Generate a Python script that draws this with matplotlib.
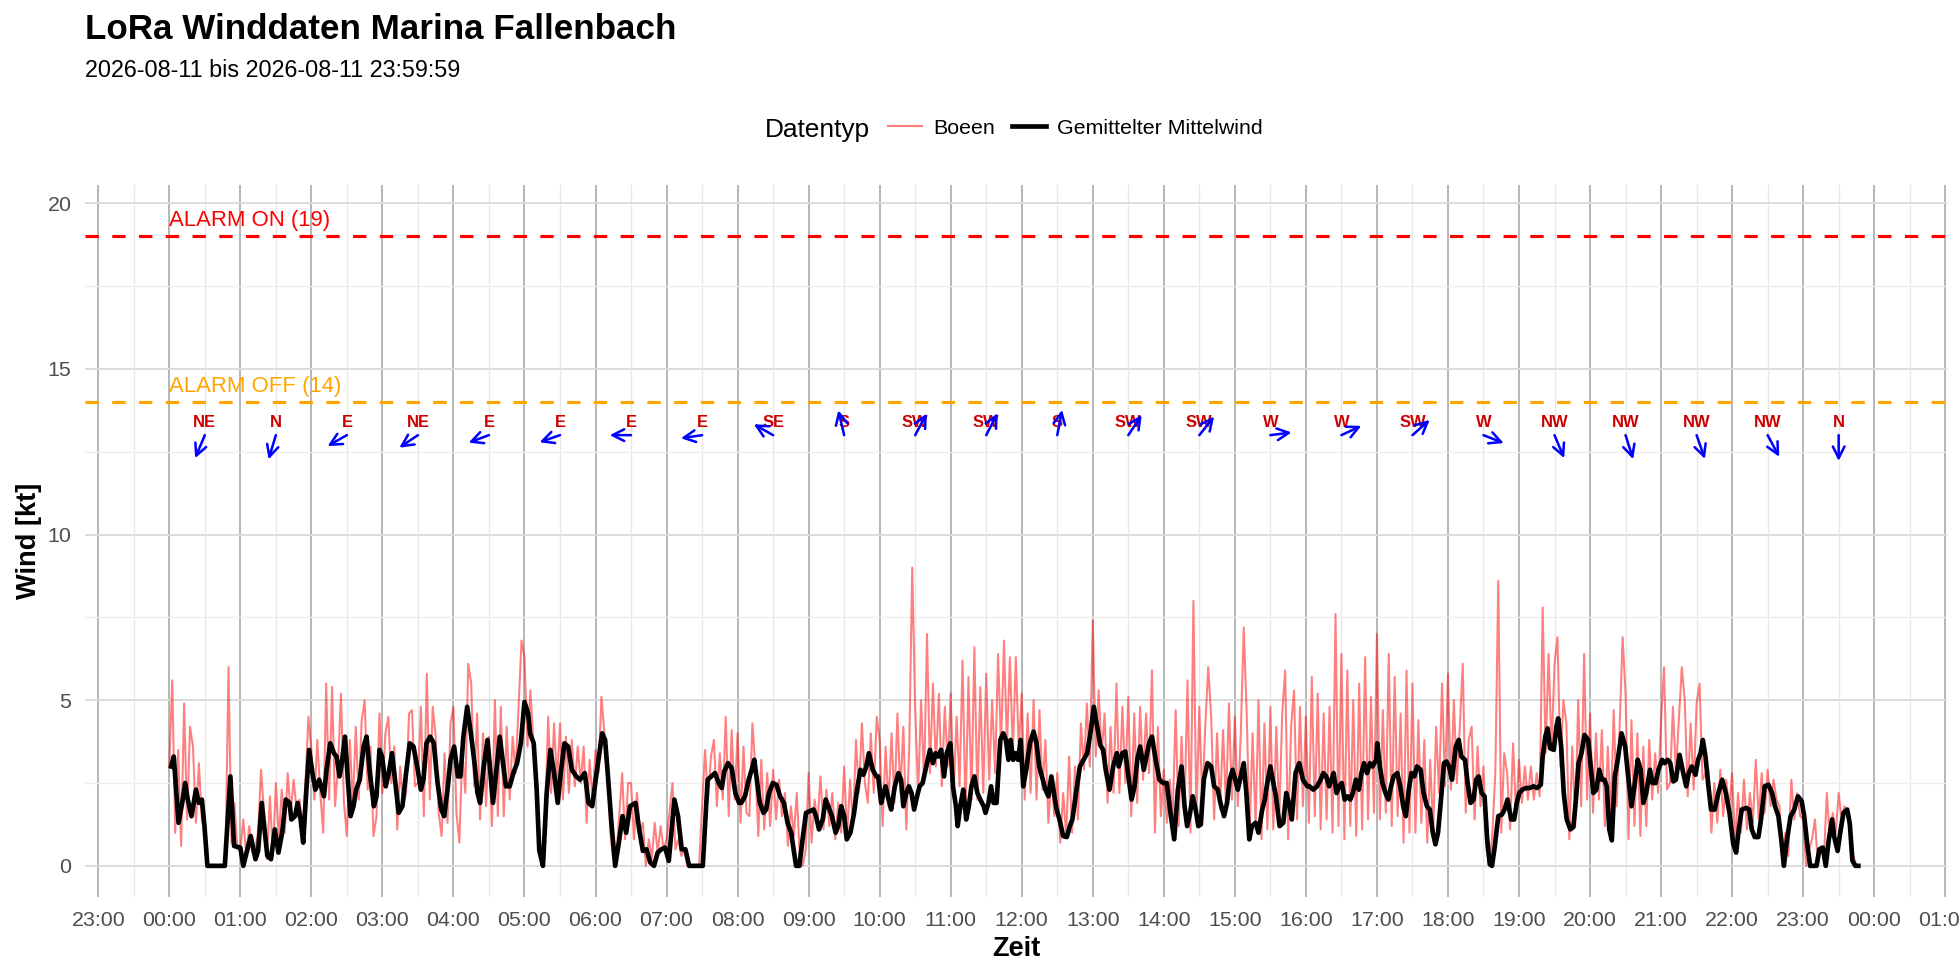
import numpy as np
import matplotlib.pyplot as plt
from matplotlib.lines import Line2D

plt.rcParams['font.family'] = ['Liberation Sans', 'DejaVu Sans']

# Boeen, alle 2.5 Minuten ab 00:00 (kt)
gust_kt = [
    3.0, 5.6, 1.0, 3.5, 0.6, 4.9, 1.4, 4.2, 3.6, 1.3, 3.1, 1.4, 1.0, 0.0, 0.0, 0.0, 0.0, 0.0, 0.0, 0.2, 6.0, 0.7, 1.9, 0.5,
    0.5, 1.4, 0.3, 1.2, 0.4, 0.5, 1.0, 2.9, 1.6, 0.2, 2.1, 0.3, 2.5, 0.8, 2.3, 1.0, 2.8, 1.6, 2.6, 1.7, 2.0, 1.1, 2.5, 4.5,
    3.5, 2.0, 3.8, 2.2, 1.0, 5.5, 2.0, 5.4, 1.8, 3.0, 5.2, 1.9, 0.9, 3.8, 1.8, 4.2, 2.0, 4.4, 5.0, 2.3, 3.6, 0.9, 1.5, 4.6,
    2.2, 4.0, 4.5, 2.5, 3.6, 1.1, 3.0, 1.8, 2.2, 4.6, 4.7, 2.4, 2.5, 4.8, 1.5, 5.8, 2.0, 4.8, 3.9, 1.6, 0.9, 3.4, 1.3, 4.3,
    4.8, 1.6, 0.7, 3.5, 2.2, 6.1, 5.5, 2.4, 4.6, 1.4, 4.0, 1.8, 3.9, 1.2, 5.0, 1.5, 4.8, 1.5, 4.2, 2.0, 3.9, 2.8, 4.8, 6.8,
    6.3, 3.6, 5.3, 3.7, 2.5, 0.3, 0.2, 1.5, 4.5, 2.2, 4.3, 2.5, 4.3, 2.0, 3.9, 2.2, 3.8, 2.4, 3.6, 2.5, 3.6, 1.3, 3.2, 2.0,
    3.5, 2.8, 5.1, 4.0, 3.3, 1.0, 0.2, 0.3, 1.5, 2.8, 0.8, 2.5, 2.5, 0.8, 2.2, 1.0, 1.3, 0.0, 0.8, 0.2, 1.3, 0.4, 1.2, 0.5,
    0.8, 1.6, 2.5, 0.5, 0.8, 0.3, 0.5, 0.0, 0.0, 0.0, 0.0, 0.0, 1.8, 3.5, 2.0, 3.3, 3.8, 1.8, 3.4, 2.0, 4.5, 1.5, 4.1, 2.0,
    4.0, 1.3, 3.6, 1.6, 1.5, 4.3, 3.0, 0.9, 3.2, 1.1, 2.8, 1.2, 2.9, 1.4, 2.6, 1.5, 2.2, 0.6, 1.8, 0.9, 2.2, 0.3, 0.0, 0.5,
    2.8, 0.7, 2.0, 1.3, 2.7, 1.1, 2.3, 1.2, 2.2, 0.8, 1.9, 1.0, 3.0, 0.9, 2.6, 1.2, 3.8, 2.2, 4.3, 2.5, 1.9, 4.0, 2.2, 4.5,
    3.8, 1.2, 3.6, 1.8, 4.0, 1.9, 4.6, 2.2, 4.2, 1.1, 3.6, 9.0, 4.7, 2.2, 5.0, 2.5, 7.0, 2.8, 5.5, 3.0, 5.2, 2.4, 4.8, 3.0,
    5.2, 2.2, 4.5, 2.4, 6.2, 1.5, 5.7, 2.0, 6.6, 2.0, 5.4, 2.2, 5.8, 2.6, 5.0, 2.8, 6.4, 3.6, 6.8, 3.6, 6.3, 3.4, 6.3, 3.5,
    5.2, 2.0, 4.6, 2.2, 5.0, 2.0, 4.7, 2.3, 3.8, 1.3, 2.7, 1.5, 2.8, 0.7, 2.2, 0.9, 3.3, 1.0, 3.0, 1.4, 4.3, 2.9, 4.9, 3.0,
    7.4, 3.3, 5.3, 3.4, 4.6, 1.9, 4.2, 2.2, 5.5, 2.2, 4.8, 2.5, 5.1, 1.5, 4.6, 1.9, 4.8, 2.6, 4.6, 2.8, 5.9, 1.0, 4.2, 1.5,
    2.9, 1.3, 2.6, 1.5, 4.7, 1.2, 3.9, 1.6, 5.6, 1.0, 8.0, 1.5, 4.8, 1.9, 4.2, 6.0, 4.5, 1.4, 4.0, 1.7, 4.1, 1.8, 4.9, 2.0,
    4.5, 1.8, 4.0, 7.2, 4.6, 1.0, 4.0, 1.2, 5.0, 0.8, 4.3, 1.1, 4.8, 1.1, 4.2, 1.4, 4.6, 5.9, 0.8, 4.2, 5.3, 1.4, 4.8, 1.8,
    4.5, 1.3, 5.7, 1.5, 5.2, 1.1, 4.6, 1.4, 4.8, 1.0, 7.6, 1.2, 6.4, 0.8, 5.9, 1.2, 5.0, 0.9, 5.5, 1.1, 6.3, 1.4, 5.1, 1.6,
    7.0, 1.4, 4.7, 1.6, 6.4, 1.2, 5.7, 1.5, 4.6, 0.7, 5.9, 1.0, 5.5, 1.0, 4.4, 1.3, 3.8, 0.7, 3.2, 1.0, 4.2, 2.2, 5.5, 2.4,
    5.8, 2.3, 5.0, 2.5, 4.2, 6.1, 1.6, 3.8, 4.2, 1.4, 3.6, 1.8, 3.0, 0.5, 0.0, 1.0, 2.8, 8.6, 1.0, 3.4, 2.8, 1.1, 3.7, 1.5,
    3.2, 1.9, 3.0, 2.0, 3.0, 2.0, 2.8, 2.1, 7.8, 3.4, 6.4, 3.5, 6.1, 6.9, 3.0, 5.0, 4.3, 0.8, 3.6, 1.2, 5.0, 1.8, 6.4, 2.0,
    4.6, 1.6, 4.0, 2.0, 4.1, 1.2, 3.6, 1.5, 4.7, 1.8, 4.2, 6.9, 5.2, 0.8, 4.4, 1.2, 4.0, 0.9, 3.6, 1.2, 3.8, 2.0, 3.4, 2.2,
    4.4, 6.0, 2.3, 2.5, 4.8, 2.8, 4.4, 6.0, 5.0, 2.1, 4.3, 2.3, 4.9, 5.5, 2.6, 2.8, 2.9, 1.0, 2.5, 1.3, 2.9, 1.5, 2.6, 1.7,
    2.8, 0.7, 2.2, 1.0, 2.6, 1.1, 2.2, 1.3, 3.2, 1.4, 2.8, 1.6, 2.9, 1.8, 2.6, 2.0, 1.8, 0.0, 1.0, 0.3, 2.6, 1.4, 2.2, 1.5,
    1.4, 0.0, 0.5, 0.8, 1.4, 0.0, 0.6, 0.2, 2.2, 0.8, 1.6, 1.0, 2.2, 1.4, 1.8, 1.5, 1.0, 0.3, 0.0,
]
gust_step_min = 2.5

# gemittelter Mittelwind: (Minute ab 00:00, kt)
mean_pts = [
    (1.6, 3.0), (3.75, 3.3), (7.8, 1.3), (10.9, 1.9), (13.4, 2.5), (15.6, 2.0), (18.75, 1.5), (22.5, 2.3), (25, 1.9), (27.5, 2.0),
    (29.7, 1.2), (32.2, 0.0), (46.9, 0.0), (51.6, 2.7), (54.7, 0.6), (60, 0.55), (62.5, 0.0), (65.6, 0.45), (68.75, 0.9), (72.8, 0.2),
    (75, 0.45), (78.1, 1.9), (82.8, 0.3), (85.9, 0.2), (89.1, 1.1), (92.2, 0.4), (95.3, 1.0), (98.4, 2.0), (101.6, 1.9), (103.1, 1.4),
    (106.25, 1.5), (108.4, 1.9), (110.9, 1.4), (113.1, 0.7), (115.6, 2.2), (118.1, 3.5), (120.9, 2.8), (123.4, 2.3), (126.6, 2.6), (130.6, 2.1),
    (132.8, 2.9), (135.9, 3.7), (139.1, 3.4), (141.25, 3.3), (143.75, 2.7), (145.3, 3.0), (148.4, 3.9), (150.6, 2.7), (153.1, 1.5), (155.6, 1.8),
    (157.8, 2.3), (160.9, 2.6), (164.1, 3.6), (166.6, 3.9), (169.4, 2.8), (172.8, 1.8), (175, 2.1), (177.5, 3.5), (179.7, 3.3), (182.8, 2.4),
    (185.3, 2.8), (188.1, 3.4), (190.6, 2.6), (193.75, 1.6), (196.9, 1.8), (200, 2.8), (203.1, 3.7), (206.25, 3.6), (209.4, 3.0), (212.5, 2.3),
    (214.7, 2.6), (217.2, 3.7), (220.3, 3.9), (223.4, 3.7), (226.6, 2.5), (229.7, 1.7), (232.2, 1.5), (235.3, 2.4), (237.5, 3.2), (240.6, 3.6),
    (243.75, 2.7), (245.9, 2.7), (248.4, 3.9), (251.6, 4.8), (254.7, 4.0), (257.8, 3.1), (260.3, 2.2), (262.5, 1.9), (265.6, 3.0), (268.75, 3.8),
    (271.25, 2.8), (273.4, 1.9), (276.6, 3.0), (279.1, 3.9), (282.2, 3.0), (284.4, 2.4), (287.5, 2.4), (290.6, 2.8), (293.75, 3.1), (296.9, 3.7),
    (300, 4.95), (303.1, 4.6), (304.7, 4.0), (307.8, 3.7), (310.3, 2.3), (312.5, 0.46), (315.6, 0.0), (318.75, 2.2), (321.9, 3.5), (325, 2.8),
    (328.1, 1.9), (330.6, 2.8), (333.75, 3.7), (336.9, 3.6), (340, 2.9), (343.75, 2.7), (346.9, 2.6), (350.9, 2.8), (354.1, 1.9), (357.2, 1.8),
    (360.9, 2.8), (365.6, 4.0), (368.1, 3.8), (370.3, 2.8), (373.4, 1.3), (376.6, 0.0), (379.7, 0.7), (382.8, 1.5), (385.9, 1.0), (389.1, 1.8),
    (393.75, 1.9), (396.9, 1.1), (400, 0.45), (403.1, 0.5), (406.25, 0.1), (409.4, 0.0), (412.5, 0.4), (415.6, 0.5), (418.75, 0.55), (421.9, 0.15),
    (426.6, 2.0), (429.7, 1.5), (432.8, 0.5), (435.9, 0.5), (439.1, 0.0), (450.6, 0.0), (454.7, 2.6), (457.8, 2.7), (460.9, 2.8), (464.1, 2.5),
    (466.6, 2.35), (468.75, 2.85), (471.9, 3.1), (475, 2.95), (478.1, 2.2), (481.25, 1.9),
    (483.1, 1.9), (486.25, 2.1), (489.4, 2.6), (491.9, 2.9), (494.1, 3.2), (496.25, 2.6), (498.75, 1.9), (501.9, 1.6), (504.1, 1.7), (506.6, 2.2),
    (509.7, 2.5), (512.8, 2.45), (515.9, 2.1), (519.1, 1.9), (522.2, 1.3), (525.3, 1.0), (527.5, 0.45), (529.4, 0.0), (532.2, 0.0), (534.7, 0.75),
    (537.8, 1.6), (540.9, 1.65), (544.1, 1.7), (546.25, 1.5), (548.75, 1.1), (551.9, 1.4), (554.4, 2.0), (556.6, 1.8), (559.7, 1.5), (562.8, 1.0),
    (565, 1.2), (567.5, 1.8), (570, 1.5), (572.2, 0.8), (575.3, 1.0), (578.4, 1.6), (580.9, 2.3), (583.75, 2.9), (586.25, 2.75), (588.75, 3.0),
    (590.9, 3.4), (594.1, 2.9), (597.2, 2.7), (598.75, 2.7), (601.25, 1.9), (603.4, 2.2), (605, 2.4), (607.5, 2.0), (609.7, 1.7), (612.8, 2.4),
    (615.9, 2.8), (618.1, 2.6), (620, 1.8), (622.5, 2.2), (624.7, 2.4), (626.9, 2.2), (629.1, 1.7), (631.6, 2.1), (633.75, 2.4), (636.25, 2.5),
    (639.4, 3.0), (642.5, 3.5), (645, 3.1), (647.2, 3.4), (649.4, 3.3), (651.9, 3.5), (654.4, 2.7), (656.6, 3.4), (659.7, 3.7), (661.9, 2.4),
    (664.4, 1.8), (665.9, 1.2), (668.1, 1.8), (670.6, 2.3), (673.1, 1.4), (675.3, 1.8), (677.5, 2.4), (680, 2.7), (682.5, 2.2), (685, 2.0),
    (687.8, 1.8), (689.4, 1.6), (691.9, 1.9), (694.1, 2.4), (696.25, 1.9), (698.75, 1.9), (701.9, 3.8), (704.4, 4.0), (706.6, 3.8), (708.75, 3.2),
    (710.6, 3.8), (712.8, 3.2), (715, 3.4), (716.9, 3.2), (719.1, 3.8), (721.25, 2.4), (723.75, 2.9), (726.9, 3.7), (730, 4.05), (732.5, 3.7),
    (734.7, 3.0), (737.8, 2.6), (740, 2.3), (742.5, 2.1), (745, 2.7), (747.2, 2.2), (749.4, 1.7), (751.9, 1.4), (755, 0.9), (758.1, 0.87),
    (760.6, 1.2), (762.8, 1.4), (765.9, 2.2), (769.1, 3.0), (772.2, 3.2), (775.3, 3.4), (778.4, 4.1), (780.9, 4.8), (783.75, 4.2), (786.25, 3.65),
    (788.75, 3.5), (790.9, 2.9), (794.1, 2.3), (797.2, 3.0), (800.3, 3.4), (801.9, 3.0), (805, 3.4), (807.5, 3.45), (809.7, 2.8), (812.8, 2.0),
    (815.3, 2.4), (817.5, 3.2), (820, 3.6), (823.1, 2.9), (825.3, 3.3), (827.5, 3.7), (830, 3.9), (833.1, 3.2), (836.25, 2.6), (839.4, 2.5),
    (842.5, 2.5), (845.6, 1.6), (848.75, 0.8), (851.9, 2.3), (855, 3.0), (857.5, 1.8), (859.7, 1.2), (862.2, 1.6), (864.4, 2.1), (866.9, 1.7),
    (869.1, 1.2), (871.25, 1.25), (873.75, 2.6), (876.9, 3.1), (880, 3.0), (882.5, 2.4), (885.6, 2.3), (887.8, 1.9), (890.9, 1.5), (893.4, 1.9),
    (895.6, 2.6), (898.1, 2.9), (900.3, 2.6), (902.5, 2.3), (905, 2.7), (907.5, 3.1), (909.7, 2.2), (912.2, 0.8), (914.4, 1.2), (917.5, 1.3),
    (920, 1.0), (923.1, 1.7), (925.3, 2.0), (926.9, 2.4), (930, 3.0), (932.5, 2.5), (934.7, 2.1), (937.8, 1.2), (940.9, 1.3), (943.4, 2.2),
    (945.6, 1.9), (948.1, 1.4), (951.25, 2.8), (954.4, 3.1), (957.5, 2.6), (961.25, 2.4),
    (963.1, 2.4), (966.25, 2.3), (969.4, 2.4), (972.5, 2.6), (974.7, 2.8), (977.2, 2.7), (979.7, 2.4), (983.4, 2.8), (985.9, 2.2), (988.1, 2.4),
    (990.3, 2.5), (992.8, 2.0), (995.3, 2.1), (997.5, 2.0), (999.7, 2.2), (1002.2, 2.6), (1004.7, 2.3), (1006.9, 2.8), (1009.1, 3.1), (1011.6, 2.8),
    (1014.1, 3.1), (1016.25, 3.0), (1019.4, 3.2), (1020.3, 3.7), (1022.5, 3.0), (1024.7, 2.5), (1027.2, 2.2), (1029.7, 2.0), (1031.9, 2.4), (1034.1, 2.7),
    (1037.2, 2.8), (1039.7, 2.4), (1042.2, 1.8), (1044.4, 1.5), (1046.9, 2.3), (1049.1, 2.8), (1051.6, 2.7), (1053.75, 3.0), (1056.9, 2.9), (1059.4, 2.2),
    (1062.2, 1.8), (1064.7, 1.7), (1067.2, 1.0), (1069.4, 0.65), (1071.6, 1.0), (1074.1, 2.0), (1076.6, 3.1), (1078.75, 3.15), (1080.9, 3.0), (1083.4, 2.6),
    (1086.6, 3.6), (1089.1, 3.8), (1091.25, 3.3), (1094.4, 3.2), (1096.6, 2.5), (1099.1, 1.9), (1101.6, 2.0), (1103.75, 2.6), (1105.9, 2.7), (1108.4, 2.2),
    (1110.9, 2.1), (1113.1, 0.8), (1115.3, 0.05), (1117.2, 0.0), (1119.4, 0.55), (1122.5, 1.5), (1125.6, 1.55), (1127.8, 1.7), (1130.3, 2.0), (1133.4, 1.4),
    (1135.9, 1.4), (1138.1, 1.9), (1140.3, 2.2), (1142.8, 2.3), (1145.9, 2.35), (1149.1, 2.35), (1152.2, 2.4), (1155.3, 2.35), (1158.4, 2.45), (1160, 3.3),
    (1162.2, 3.9), (1164.1, 4.15), (1166.25, 3.55), (1169.4, 3.5), (1171.6, 4.2), (1173.1, 4.45), (1175.6, 3.6), (1177.8, 2.2), (1180.3, 1.4), (1183.4, 1.1),
    (1185.9, 1.17), (1188.1, 2.0), (1190.3, 3.1), (1192.8, 3.4), (1195.3, 3.95), (1198.4, 3.8), (1200.6, 3.0), (1202.8, 2.2), (1205.3, 2.3), (1207.8, 2.9),
    (1210, 2.6), (1212.2, 2.6), (1214.1, 2.4), (1216.25, 1.1), (1218.4, 0.77), (1220.9, 2.7), (1223.4, 3.2), (1226.6, 4.0), (1229.7, 3.6), (1231.9, 2.8),
    (1235, 1.8), (1237.5, 2.4), (1240.3, 3.2), (1242.8, 2.9), (1245, 1.9), (1247.5, 2.2), (1250.6, 2.9), (1252.8, 2.5), (1255.3, 2.5), (1257.8, 2.9),
    (1260.9, 3.2), (1263.1, 3.1), (1265.6, 3.2), (1267.8, 3.1), (1270.3, 2.55), (1272.5, 2.6), (1275.6, 3.35), (1278.75, 2.8), (1281.25, 2.4), (1283.4, 2.8),
    (1285.9, 3.0), (1289.1, 2.75), (1291.25, 3.2), (1293.4, 3.4), (1295.3, 3.8), (1297.5, 3.3), (1300, 2.4), (1302.2, 1.7), (1305.3, 1.7), (1308.4, 2.2),
    (1311.6, 2.6), (1314.7, 2.2), (1317.8, 1.6), (1320.9, 0.67), (1323.4, 0.4), (1325.6, 1.1), (1328.1, 1.7), (1331.9, 1.75), (1334.4, 1.7), (1336.6, 1.1),
    (1339.1, 0.87), (1342.2, 0.87), (1344.4, 1.4), (1347.5, 2.4), (1350.6, 2.45), (1353.75, 2.2), (1356.25, 1.8), (1359.1, 1.5), (1361.6, 0.77), (1363.75, 0.0),
    (1366.25, 0.77), (1369.4, 1.5), (1372.5, 1.7), (1375.6, 2.1), (1378.75, 1.95), (1380.9, 1.5), (1383.4, 0.67), (1385.9, 0.0), (1391.25, 0.0), (1393.75, 0.5),
    (1396.6, 0.55), (1399.1, 0.0), (1401.6, 0.77), (1404.4, 1.4), (1406.25, 0.87), (1409.1, 0.45), (1411.6, 1.07), (1414.1, 1.6), (1417.2, 1.7), (1419.4, 1.27),
    (1421.6, 0.16), (1424.1, 0.0), (1426.6, 0.0),
]

# Windrichtung je Stunde (Pfeil bei hh:30)
dir_labels = ["NE", "N", "E", "NE", "E", "E", "E", "E", "SE", "S", "SW", "SW",
              "S", "SW", "SW", "W", "W", "SW", "W", "NW", "NW", "NW", "NW", "N"]
dir_deg = [27, 20, 65, 61, 73, 74, 90, 83, 115, 164, 213, 212,
           193, 219, 224, 264, 249, 234, 288, 333, 339, 337, 327, 0]

alarm_on = 19
alarm_off = 14

gust_t = np.arange(len(gust_kt)) * gust_step_min
mean_t = np.array([p[0] for p in mean_pts])
mean_v = np.array([p[1] for p in mean_pts])

W, H = 1960, 980
fig = plt.figure(figsize=(14, 7), dpi=140)
ax = fig.add_axes([85 / W, 1 - 897 / H, (1947 - 85) / W, (897 - 185) / H])

ax.set_xlim(-71.2, 1501.5)
ax.set_ylim(-0.94, 20.55)

hours = np.arange(-1, 26)
ax.set_xticks(hours * 60)
ax.set_xticklabels([f"{h % 24:02d}:00" for h in hours])
ax.set_xticks(hours[:-1] * 60 + 30, minor=True)
ax.set_yticks([0, 5, 10, 15, 20])
ax.set_yticks([2.5, 7.5, 12.5, 17.5], minor=True)

ax.grid(axis='y', which='major', color='#DCDCDC', lw=1.0)
ax.grid(axis='y', which='minor', color='#EEEEEE', lw=0.7)
ax.grid(axis='x', which='minor', color='#E8E8E8', lw=0.7)
ax.grid(axis='x', which='major', color='#B5B5B5', lw=1.0)
ax.set_axisbelow(True)
for s in ax.spines.values():
    s.set_visible(False)
ax.tick_params(which='both', length=0)
ax.tick_params(axis='x', labelsize=11, labelcolor='#4D4D4D', pad=7)
ax.tick_params(axis='y', labelsize=11, labelcolor='#4D4D4D', pad=7)

# Daten
ax.plot(gust_t, gust_kt, color='red', alpha=0.5, lw=1.05)
ax.plot(mean_t, mean_v, color='black', lw=2.4, solid_joinstyle='round')

# Alarmschwellen
ax.axhline(alarm_on, color='red', lw=1.6, ls=(0, (4.3, 4.3)))
ax.axhline(alarm_off, color='orange', lw=1.6, ls=(0, (4.3, 4.3)))
ax.text(0, alarm_on + 0.3, f"ALARM ON ({alarm_on})", color='red', fontsize=11.4, va='baseline')
ax.text(0, alarm_off + 0.3, f"ALARM OFF ({alarm_off})", color='orange', fontsize=11.4, va='baseline')

# Richtungspfeile
arrow_lx, arrow_ly = 18, 0.78
for i, (lab, deg) in enumerate(zip(dir_labels, dir_deg)):
    t = i * 60 + 30
    r = np.radians(deg)
    ax.text(t, 13.26, lab, color='#CD0000', fontsize=8.5, fontweight='bold',
            ha='center', va='baseline')
    ax.annotate('', xy=(t - np.sin(r) * arrow_lx, 13.0 - np.cos(r) * arrow_ly), xytext=(t, 13.0),
                arrowprops=dict(arrowstyle='->,head_length=0.6,head_width=0.3', color='blue',
                                lw=1.3, shrinkA=0, shrinkB=0, mutation_scale=10))

ax.set_xlabel('Zeit', fontsize=14, fontweight='bold', labelpad=3.5)
ax.set_ylabel('Wind [kt]', fontsize=14, fontweight='bold', labelpad=3)

fig.text(85 / W, 1 - 39.3 / H, 'LoRa Winddaten Marina Fallenbach', fontsize=18,
         fontweight='bold', va='baseline')
fig.text(85 / W, 1 - 77.3 / H, '2026-08-11 bis 2026-08-11 23:59:59', fontsize=12, va='baseline')

fig.text(765 / W, 1 - 136.7 / H, 'Datentyp', fontsize=13.5, va='baseline')
handles = [Line2D([], [], color='red', alpha=0.5, lw=1.1),
           Line2D([], [], color='black', lw=2.4)]
fig.legend(handles, ['Boeen', 'Gemittelter Mittelwind'], loc='center left',
           bbox_to_anchor=(888 / W, 1 - 128 / H), ncol=2, frameon=False, fontsize=11,
           handlelength=1.6, handletextpad=0.5, columnspacing=0.8,
           borderaxespad=0, borderpad=0)

fig.savefig('out.png', dpi=140)
